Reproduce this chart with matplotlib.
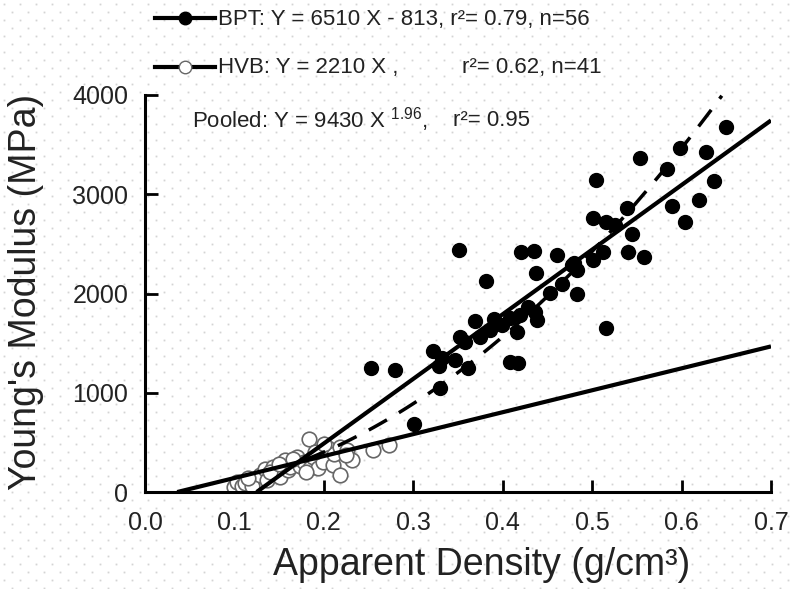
import numpy as np
import matplotlib
matplotlib.use("Agg")
import matplotlib.pyplot as plt
from matplotlib.lines import Line2D

plt.rcParams['font.family'] = ['Liberation Sans', 'DejaVu Sans']
plt.rcParams['mathtext.fontset'] = 'custom'
plt.rcParams['mathtext.rm'] = 'Liberation Sans'
plt.rcParams['mathtext.it'] = 'Liberation Sans:italic'

# BPT specimens (filled circles): apparent density (g/cm3), modulus (MPa)
bpt_density = [0.253, 0.280, 0.301, 0.322, 0.330, 0.329, 0.347, 0.361, 0.351, 0.352,
               0.358, 0.369, 0.381, 0.386, 0.399, 0.408, 0.408, 0.417, 0.416, 0.419,
               0.436, 0.438, 0.420, 0.435, 0.437, 0.453, 0.461, 0.478, 0.483, 0.483,
               0.501, 0.512, 0.515, 0.501, 0.516, 0.526, 0.504, 0.539, 0.540, 0.558,
               0.554, 0.584, 0.589, 0.598, 0.604, 0.620, 0.627, 0.636, 0.650, 0.332,
               0.375, 0.390, 0.428, 0.466, 0.545, 0.480]
bpt_modulus = [1249, 1229, 685, 1420, 1050, 1269, 1329, 1250, 2437, 1561,
               1511, 1722, 2125, 1631, 1682, 1752, 1309, 1299, 1611, 1782,
               1813, 1732, 2417, 2427, 2205, 2004, 2387, 2286, 2236, 1994,
               2336, 2417, 1652, 2759, 2719, 2689, 3142, 2860, 2417, 2366,
               3363, 3253, 2880, 3464, 2719, 2940, 3424, 3132, 3680, 1350,
               1560, 1740, 1860, 2100, 2600, 2310]

# HVB specimens (open circles)
hvb_density = [0.099, 0.103, 0.108, 0.112, 0.120, 0.120, 0.129, 0.134, 0.136, 0.143,
               0.145, 0.151, 0.157, 0.160, 0.162, 0.170, 0.173, 0.178, 0.183, 0.184,
               0.188, 0.194, 0.196, 0.199, 0.205, 0.210, 0.211, 0.218, 0.218, 0.226,
               0.231, 0.255, 0.273, 0.190, 0.165, 0.140, 0.115, 0.200, 0.225, 0.180,
               0.150]
hvb_modulus = [50, 101, 65, 90, 121, 60, 171, 232, 121, 252,
               190, 151, 322, 220, 252, 352, 262, 300, 534, 242,
               352, 242, 403, 302, 440, 272, 380, 171, 453, 423,
               322, 423, 473, 400, 330, 200, 140, 480, 370, 200,
               280]

# regression fits
bpt_slope, bpt_intercept = 6510, -813
hvb_slope, hvb_intercept = 2210, -80   # drawn slightly offset in the original
pooled_coef, pooled_exp = 9430, 1.96
hvb_range = (0.036, 0.70)
pooled_range = (0.18, 0.645)

fig = plt.figure(figsize=(7.94, 5.89), dpi=100)

# faint dotted paper texture behind everything
gx, gy = np.meshgrid(np.arange(0, 800, 16), np.arange(0, 600, 8))
gx = gx + (np.arange(gy.shape[0])[:, None] % 2) * 8
fig.add_artist(Line2D((gx.ravel() + 4) / 794, 1 - (gy.ravel() + 4) / 589, ls='none',
                      marker='s', markersize=1.3, markeredgewidth=0, color='#d4d4d4',
                      zorder=0))

ax = fig.add_axes([145 / 794, 1 - 492 / 589, 626 / 794, 397 / 589])
ax.patch.set_alpha(0)

ax.scatter(bpt_density, bpt_modulus, s=100, color='black', zorder=2)
ax.scatter(hvb_density, hvb_modulus, s=110, facecolor='white', edgecolor='#666666',
           linewidth=1.2, zorder=2)

x_bpt = np.linspace(-bpt_intercept / bpt_slope, 0.70, 50)
ax.plot(x_bpt, bpt_slope * x_bpt + bpt_intercept, color='black', lw=3, zorder=3,
        solid_capstyle='butt')
x_hvb = np.linspace(*hvb_range, 50)
ax.plot(x_hvb, hvb_slope * x_hvb + hvb_intercept, color='black', lw=3, zorder=3,
        solid_capstyle='butt')
x_pool = np.linspace(*pooled_range, 100)
ax.plot(x_pool, pooled_coef * x_pool ** pooled_exp, color='black', lw=2.5,
        dashes=(6, 4), zorder=3, clip_on=False)

ax.set_xlim(0, 0.7)
ax.set_ylim(0, 4000)
ax.set_xticks(np.arange(0, 0.71, 0.1))
ax.set_xticklabels([f'{v:.1f}' for v in np.arange(0, 0.71, 0.1)])
ax.set_yticks([0, 1000, 2000, 3000, 4000])
for s in ['top', 'right']:
    ax.spines[s].set_visible(False)
for s in ['left', 'bottom']:
    ax.spines[s].set_linewidth(2.2)
ax.tick_params(direction='in', length=9, width=2, labelsize=18, labelcolor='#222222')
ax.tick_params(axis='y', pad=12)
ax.tick_params(axis='x', pad=14)
ax.set_xlabel('Apparent Density (g/cm³)', fontsize=27, color='#222222')
ax.set_ylabel("Young's Modulus (MPa)", fontsize=27, color='#222222')
ax.xaxis.label.set_va('center')
ax.yaxis.label.set_va('center')
ax.xaxis.set_label_coords(0.537, -0.184)
ax.yaxis.set_label_coords(-0.19, 0.504)


def fx(px):
    return px / 794


def fy(py):
    return 1 - py / 589


# legend drawn in figure coordinates
fig.add_artist(Line2D([fx(155), fx(185), fx(215)], [fy(18)] * 3, color='black', lw=3,
                      marker='o', markevery=[1], markersize=9))
fig.add_artist(Line2D([fx(155), fx(185), fx(215)], [fy(67)] * 3, color='black', lw=3,
                      marker='o', markevery=[1], markersize=9,
                      markerfacecolor='white', markeredgecolor='#666666'))
tkw = dict(fontsize=16, color='#222222', va='center', ha='left')
fig.text(fx(218), fy(19), 'BPT: Y = 6510 X - 813, r²= 0.79, n=56', **tkw)
fig.text(fx(218), fy(68), 'HVB: Y = 2210 X ,', **tkw)
fig.text(fx(462), fy(68), 'r²= 0.62, n=41', **tkw)
fig.text(fx(192), fy(120), r'Pooled: Y = 9430 X $^{1.96}$,', **tkw)
fig.text(fx(453), fy(120), 'r²= 0.95', **tkw)

fig.savefig('out.png', dpi=100)
